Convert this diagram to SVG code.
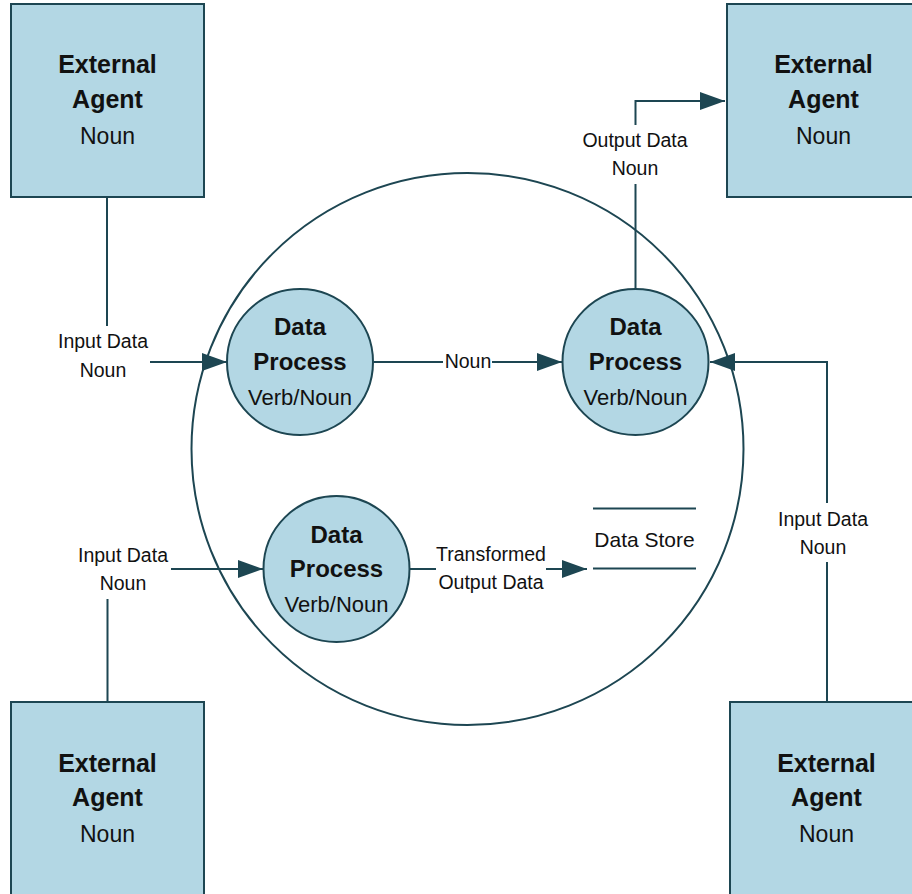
<svg xmlns="http://www.w3.org/2000/svg" width="912" height="894" viewBox="0 0 912 894">
<style>
.agent{fill:#b3d7e4;stroke:#1d4652;stroke-width:2}
.proc{fill:#b3d7e4;stroke:#1d4652;stroke-width:2}
.boundary{fill:none;stroke:#1d4652;stroke-width:2}
.conn{fill:none;stroke:#1d4652;stroke-width:2;marker-end:url(#arrow)}
.store{fill:none;stroke:#1d4652;stroke-width:2}
text{font-family:"Liberation Sans",Arial,sans-serif;fill:#111;text-anchor:middle}
.b{font-weight:bold;font-size:25px}
.pb{font-weight:bold;font-size:24px}
.n{font-size:23px}
.pn{font-size:22px}
.lbl{font-size:19.5px}
.ds{font-size:21px}
</style>
<defs>
<marker id="arrow" markerUnits="userSpaceOnUse" markerWidth="26" markerHeight="18" refX="25" refY="9" orient="auto">
<path d="M0,0 L25,9 L0,18 Z" fill="#1d4652"/>
</marker>
</defs>
<rect width="912" height="894" fill="#fff"/>
<g id="boundary">
<circle class="boundary" cx="467.5" cy="449" r="276"/>
</g>
<g id="connectors">
<path class="conn" d="M107,197 V326 M150,362 H227"/>
<path class="conn" d="M374,362 H443 M492,362 H562"/>
<path class="conn" d="M635.5,289 V184 M635.5,125 V101 H725"/>
<path class="conn" d="M827,702 V562 M827,503 V362 H710"/>
<path class="conn" d="M107.5,702 V599 M171,569 H263"/>
<path class="conn" d="M410,569 H436 M546,569 H587"/>
<text class="lbl" x="103" y="348">Input Data</text>
<text class="lbl" x="103" y="377">Noun</text>
<text class="lbl" x="468" y="368">Noun</text>
<text class="lbl" x="635" y="147">Output Data</text>
<text class="lbl" x="635" y="175">Noun</text>
<text class="lbl" x="823" y="526">Input Data</text>
<text class="lbl" x="823" y="554">Noun</text>
<text class="lbl" x="123" y="562">Input Data</text>
<text class="lbl" x="123" y="590">Noun</text>
<text class="lbl" x="491" y="561">Transformed</text>
<text class="lbl" x="491" y="589">Output Data</text>
</g>
<g id="agent-top-left">
<rect class="agent" x="11" y="4" width="193" height="193"/>
<text class="b" x="107.5" y="73">External</text>
<text class="b" x="107.5" y="108">Agent</text>
<text class="n" x="107.5" y="144">Noun</text>
</g>
<g id="agent-top-right">
<rect class="agent" x="727" y="4" width="193" height="193"/>
<text class="b" x="823.5" y="73">External</text>
<text class="b" x="823.5" y="108">Agent</text>
<text class="n" x="823.5" y="144">Noun</text>
</g>
<g id="agent-bottom-left">
<rect class="agent" x="11" y="702" width="193" height="193"/>
<text class="b" x="107.5" y="772">External</text>
<text class="b" x="107.5" y="806">Agent</text>
<text class="n" x="107.5" y="842">Noun</text>
</g>
<g id="agent-bottom-right">
<rect class="agent" x="730" y="702" width="193" height="193"/>
<text class="b" x="826.5" y="772">External</text>
<text class="b" x="826.5" y="806">Agent</text>
<text class="n" x="826.5" y="842">Noun</text>
</g>
<g id="process-1">
<circle class="proc" cx="300" cy="362" r="73"/>
<text class="pb" x="300" y="335">Data</text>
<text class="pb" x="300" y="370">Process</text>
<text class="pn" x="300" y="405">Verb/Noun</text>
</g>
<g id="process-2">
<circle class="proc" cx="635.5" cy="362" r="73"/>
<text class="pb" x="635.5" y="335">Data</text>
<text class="pb" x="635.5" y="370">Process</text>
<text class="pn" x="635.5" y="405">Verb/Noun</text>
</g>
<g id="process-3">
<circle class="proc" cx="336.5" cy="569" r="73"/>
<text class="pb" x="336.5" y="543">Data</text>
<text class="pb" x="336.5" y="577">Process</text>
<text class="pn" x="336.5" y="612">Verb/Noun</text>
</g>
<g id="data-store">
<path class="store" d="M593,508.5 H696 M593,568.5 H696"/>
<text class="ds" x="644.5" y="547">Data Store</text>
</g>
</svg>
